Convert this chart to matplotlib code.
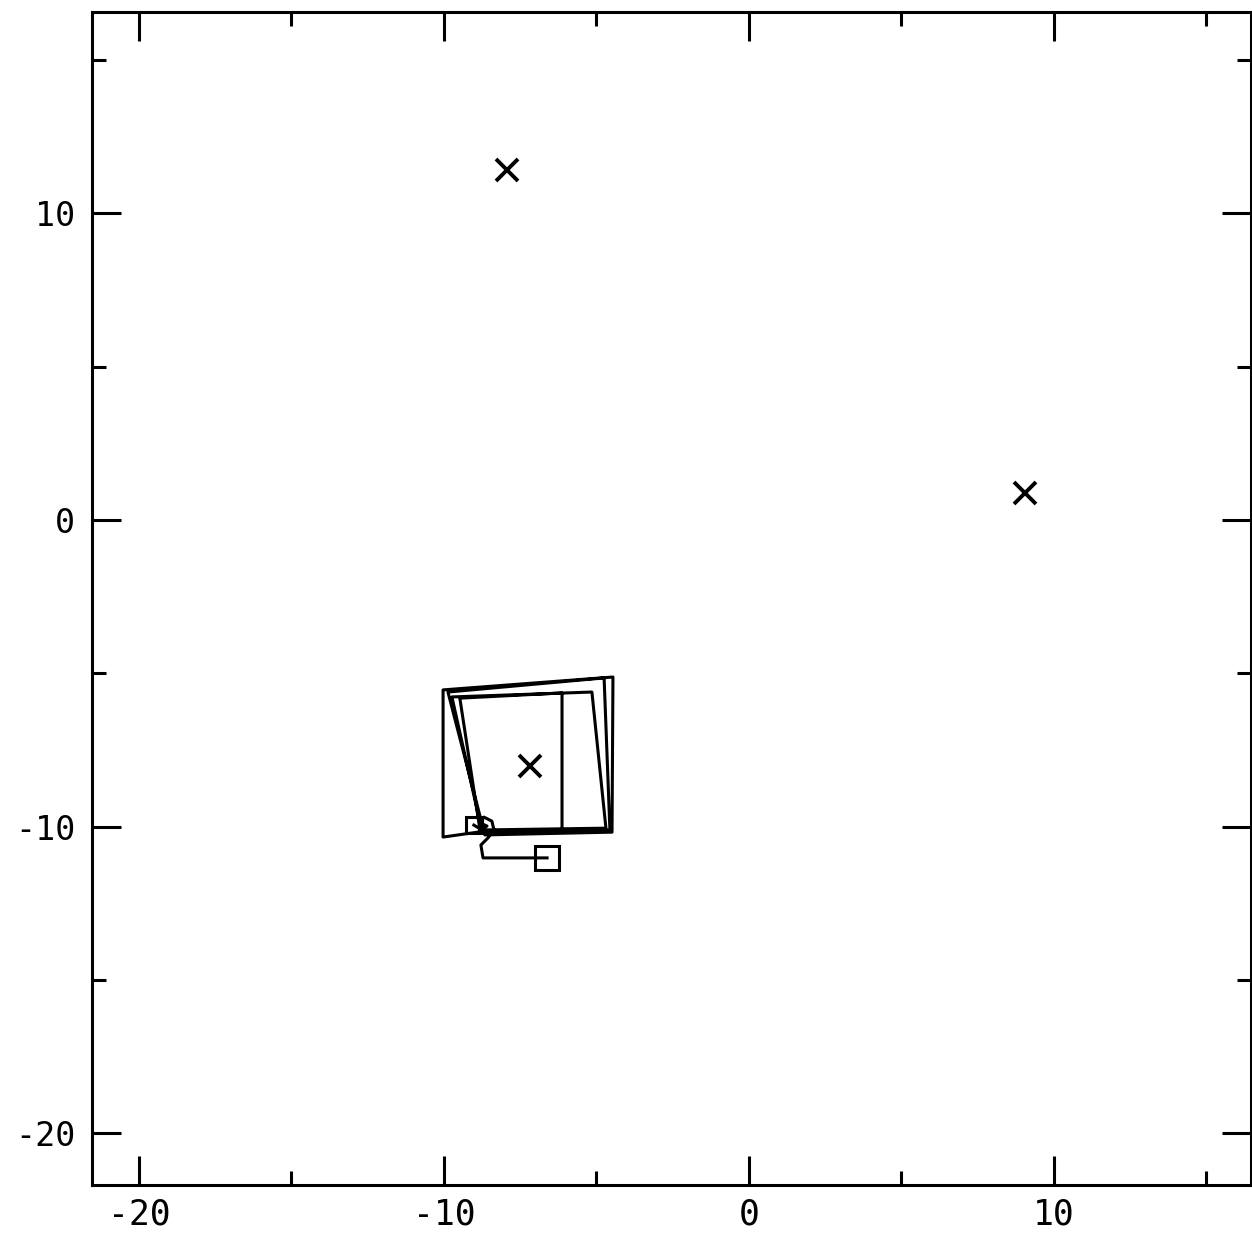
import matplotlib
matplotlib.use("Agg")
import matplotlib.pyplot as plt
from matplotlib.ticker import MultipleLocator

plt.rcParams["axes.unicode_minus"] = False

# path of the tracked point
path_x = [-6.62, -8.72, -8.79, -8.56, -8.36, -8.43, -8.69, -8.82, -8.59, -8.89,
          -10.03, -10.03, -4.46, -4.49,
          -8.66, -9.87, -4.75, -4.56, -8.75, -9.74, -5.15, -4.69, -8.82, -9.48,
          -6.13, -6.13, -8.59, -9.02]
path_y = [-11.02, -11.02, -10.60, -10.37, -10.11, -9.82, -9.69, -9.88, -9.98, -10.18,
          -10.34, -5.54, -5.12, -10.18,
          -10.27, -5.61, -5.15, -10.11, -10.18, -5.77, -5.61, -10.05, -10.11, -5.81,
          -5.64, -10.11, -10.21, -9.95]

# start / end of the path
start_xy = (-6.62, -11.02)
end_xy = (-9.02, -9.95)

# fixed targets
target_x = [-7.93, 9.05, -7.18]
target_y = [11.42, 0.88, -8.02]

fig = plt.figure(figsize=(12.52, 12.37), dpi=100)
ax = fig.add_axes([0.0735, 0.042, 0.9257, 0.9483])

ax.plot(path_x, path_y, color="black", linewidth=2.2)
ax.plot(*start_xy, marker="s", markersize=17, markerfacecolor="none",
        markeredgecolor="black", markeredgewidth=2.2)
ax.plot(*end_xy, marker="s", markersize=11, markerfacecolor="none",
        markeredgecolor="black", markeredgewidth=2.2)
ax.plot(target_x, target_y, linestyle="none", marker="x", markersize=16,
        markeredgewidth=2.8, color="black")

ax.set_xlim(-21.54, 16.46)
ax.set_ylim(-21.69, 16.57)

ax.xaxis.set_major_locator(MultipleLocator(10))
ax.xaxis.set_minor_locator(MultipleLocator(5))
ax.yaxis.set_major_locator(MultipleLocator(10))
ax.yaxis.set_minor_locator(MultipleLocator(5))

ax.tick_params(which="both", direction="in", top=True, right=True, width=2.2)
ax.tick_params(which="major", length=21)
ax.tick_params(which="minor", length=10)
ax.tick_params(axis="x", labelsize=25, pad=9)
ax.tick_params(axis="y", labelsize=24, pad=12)

for lab in ax.get_xticklabels() + ax.get_yticklabels():
    lab.set_family("DejaVu Sans Mono")

for sp in ax.spines.values():
    sp.set_linewidth(2.2)

fig.savefig("out.png", dpi=100)
